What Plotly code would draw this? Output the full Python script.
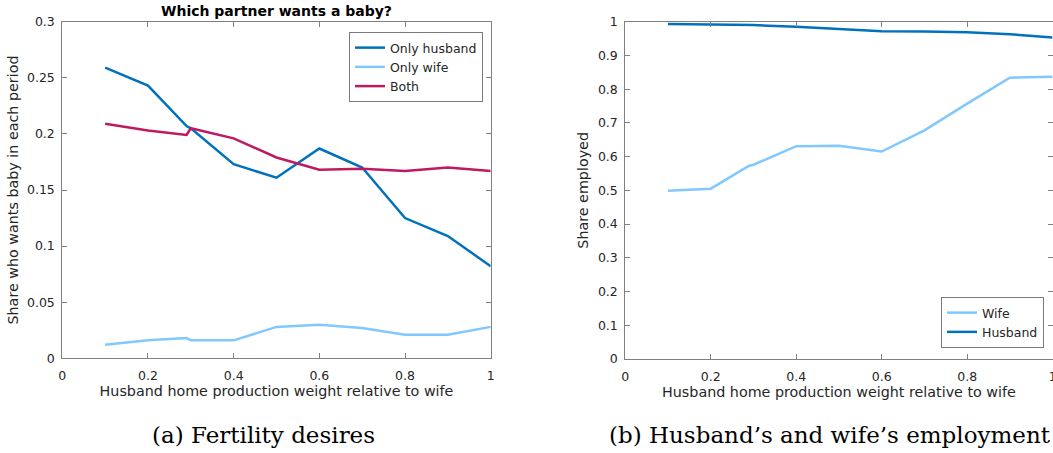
import plotly.graph_objects as go

# Husband home production weight relative to wife
x_desire = [0.1, 0.2, 0.29, 0.3, 0.4, 0.5, 0.6, 0.7, 0.8, 0.9, 1.0]
only_husband = [0.259, 0.243, 0.207, 0.205, 0.173, 0.161, 0.187, 0.170, 0.125, 0.109, 0.082]
only_wife = [0.012, 0.016, 0.018, 0.016, 0.016, 0.028, 0.030, 0.027, 0.021, 0.021, 0.028]
both = [0.209, 0.203, 0.199, 0.205, 0.196, 0.179, 0.168, 0.169, 0.167, 0.170, 0.167]

x_emp = [0.1, 0.2, 0.29, 0.3, 0.4, 0.5, 0.6, 0.7, 0.8, 0.9, 1.0]
wife_emp = [0.499, 0.505, 0.573, 0.576, 0.631, 0.632, 0.615, 0.678, 0.757, 0.834, 0.837]
husband_emp = [0.993, 0.992, 0.991, 0.990, 0.985, 0.979, 0.972, 0.971, 0.969, 0.963, 0.953]

x_ticks = [0, 0.2, 0.4, 0.6, 0.8, 1]
x_ticklabels = ["0", "0.2", "0.4", "0.6", "0.8", "1"]
y_ticks_a = [0, 0.05, 0.1, 0.15, 0.2, 0.25, 0.3]
y_ticklabels_a = ["0", "0.05", "0.1", "0.15", "0.2", "0.25", "0.3"]
y_ticks_b = [0, 0.1, 0.2, 0.3, 0.4, 0.5, 0.6, 0.7, 0.8, 0.9, 1]
y_ticklabels_b = ["0", "0.1", "0.2", "0.3", "0.4", "0.5", "0.6", "0.7", "0.8", "0.9", "1"]

DARK_BLUE = "#0072BD"
LIGHT_BLUE = "#80C8FF"
MAGENTA = "#BE1A60"
TEXT = "#262626"
AXIS = "#808080"
FONT = "DejaVu Sans"
TICK_SIZE = 12.5
LABEL_SIZE = 14.3

fig = go.Figure()

lw = 2.5
fig.add_trace(go.Scatter(x=x_desire, y=only_husband, mode="lines", name="Only husband",
                         line=dict(color=DARK_BLUE, width=lw), xaxis="x", yaxis="y", legend="legend"))
fig.add_trace(go.Scatter(x=x_desire, y=only_wife, mode="lines", name="Only wife",
                         line=dict(color=LIGHT_BLUE, width=lw), xaxis="x", yaxis="y", legend="legend"))
fig.add_trace(go.Scatter(x=x_desire, y=both, mode="lines", name="Both",
                         line=dict(color=MAGENTA, width=lw), xaxis="x", yaxis="y", legend="legend"))

fig.add_trace(go.Scatter(x=x_emp, y=wife_emp, mode="lines", name="Wife",
                         line=dict(color=LIGHT_BLUE, width=lw), xaxis="x2", yaxis="y2", legend="legend2"))
fig.add_trace(go.Scatter(x=x_emp, y=husband_emp, mode="lines", name="Husband",
                         line=dict(color=DARK_BLUE, width=lw), xaxis="x2", yaxis="y2", legend="legend2"))

W, H = 1053, 453


def px_x(p):
    return p / W


def px_y(p):
    return 1 - p / H


axis_common = dict(
    showline=True, linecolor=AXIS, linewidth=1, mirror="ticks",
    ticks="inside", ticklen=5, tickcolor=AXIS, tickwidth=1,
    showgrid=False, zeroline=False, automargin=False,
    ticklabeloverflow="allow",
    tickfont=dict(family=FONT, size=TICK_SIZE, color=TEXT),
)
xaxis_extra = dict(ticklabelstandoff=6)
yaxis_extra = dict(ticklabelstandoff=4)

fig.update_layout(
    width=W, height=H,
    margin=dict(l=0, r=0, t=0, b=0, pad=0),
    paper_bgcolor="white", plot_bgcolor="white",
    font=dict(family=FONT, color=TEXT),
    xaxis=dict(domain=[px_x(62.3), px_x(490.7)], range=[0, 1], anchor="y",
               tickvals=x_ticks, ticktext=x_ticklabels,
               title=dict(text="Husband home production weight relative to wife",
                          font=dict(family=FONT, size=LABEL_SIZE, color=TEXT), standoff=3),
               **axis_common, **xaxis_extra),
    yaxis=dict(domain=[px_y(358.3), px_y(21.7)], range=[0, 0.3], anchor="x",
               tickvals=y_ticks_a, ticktext=y_ticklabels_a,
               title=dict(text="Share who wants baby in each period",
                          font=dict(family=FONT, size=LABEL_SIZE, color=TEXT), standoff=4),
               **axis_common, **yaxis_extra),
    xaxis2=dict(domain=[px_x(625.3), px_x(1052.6)], range=[0, 1], anchor="y2",
                tickvals=x_ticks, ticktext=x_ticklabels,
                title=dict(text="Husband home production weight relative to wife",
                           font=dict(family=FONT, size=LABEL_SIZE, color=TEXT), standoff=3),
                **axis_common, **xaxis_extra),
    yaxis2=dict(domain=[px_y(359), px_y(21.7)], range=[0, 1], anchor="x2",
                tickvals=y_ticks_b, ticktext=y_ticklabels_b,
                title=dict(text="Share employed",
                           font=dict(family=FONT, size=LABEL_SIZE, color=TEXT), standoff=5),
                **axis_common, **yaxis_extra),
    legend=dict(x=px_x(349), y=px_y(32), xanchor="left", yanchor="top",
                bgcolor="white", bordercolor="#7a7a7a", borderwidth=1,
                font=dict(family=FONT, size=12.5, color=TEXT),
                itemwidth=30, tracegroupgap=0),
    legend2=dict(x=px_x(1044), y=px_y(348), xanchor="right", yanchor="bottom",
                 bgcolor="white", bordercolor="#7a7a7a", borderwidth=1,
                 font=dict(family=FONT, size=12.5, color=TEXT),
                 itemwidth=30, tracegroupgap=0),
    showlegend=True,
    annotations=[
        dict(text="<b>Which partner wants a baby?</b>", x=(62.3 + 490.7) / 2 / W, y=px_y(11),
             xref="paper", yref="paper", xanchor="center", yanchor="middle", showarrow=False,
             font=dict(family=FONT, size=14, color="black")),
        dict(text="(a) Fertility desires", x=263 / W, y=px_y(435),
             xref="paper", yref="paper", xanchor="center", yanchor="middle", showarrow=False,
             font=dict(family="DejaVu Serif", size=23, color="black")),
        dict(text="(b) Husband’s and wife’s employment", x=830 / W, y=px_y(435),
             xref="paper", yref="paper", xanchor="center", yanchor="middle", showarrow=False,
             font=dict(family="DejaVu Serif", size=23, color="black")),
    ],
)

fig.write_html("out.html")
